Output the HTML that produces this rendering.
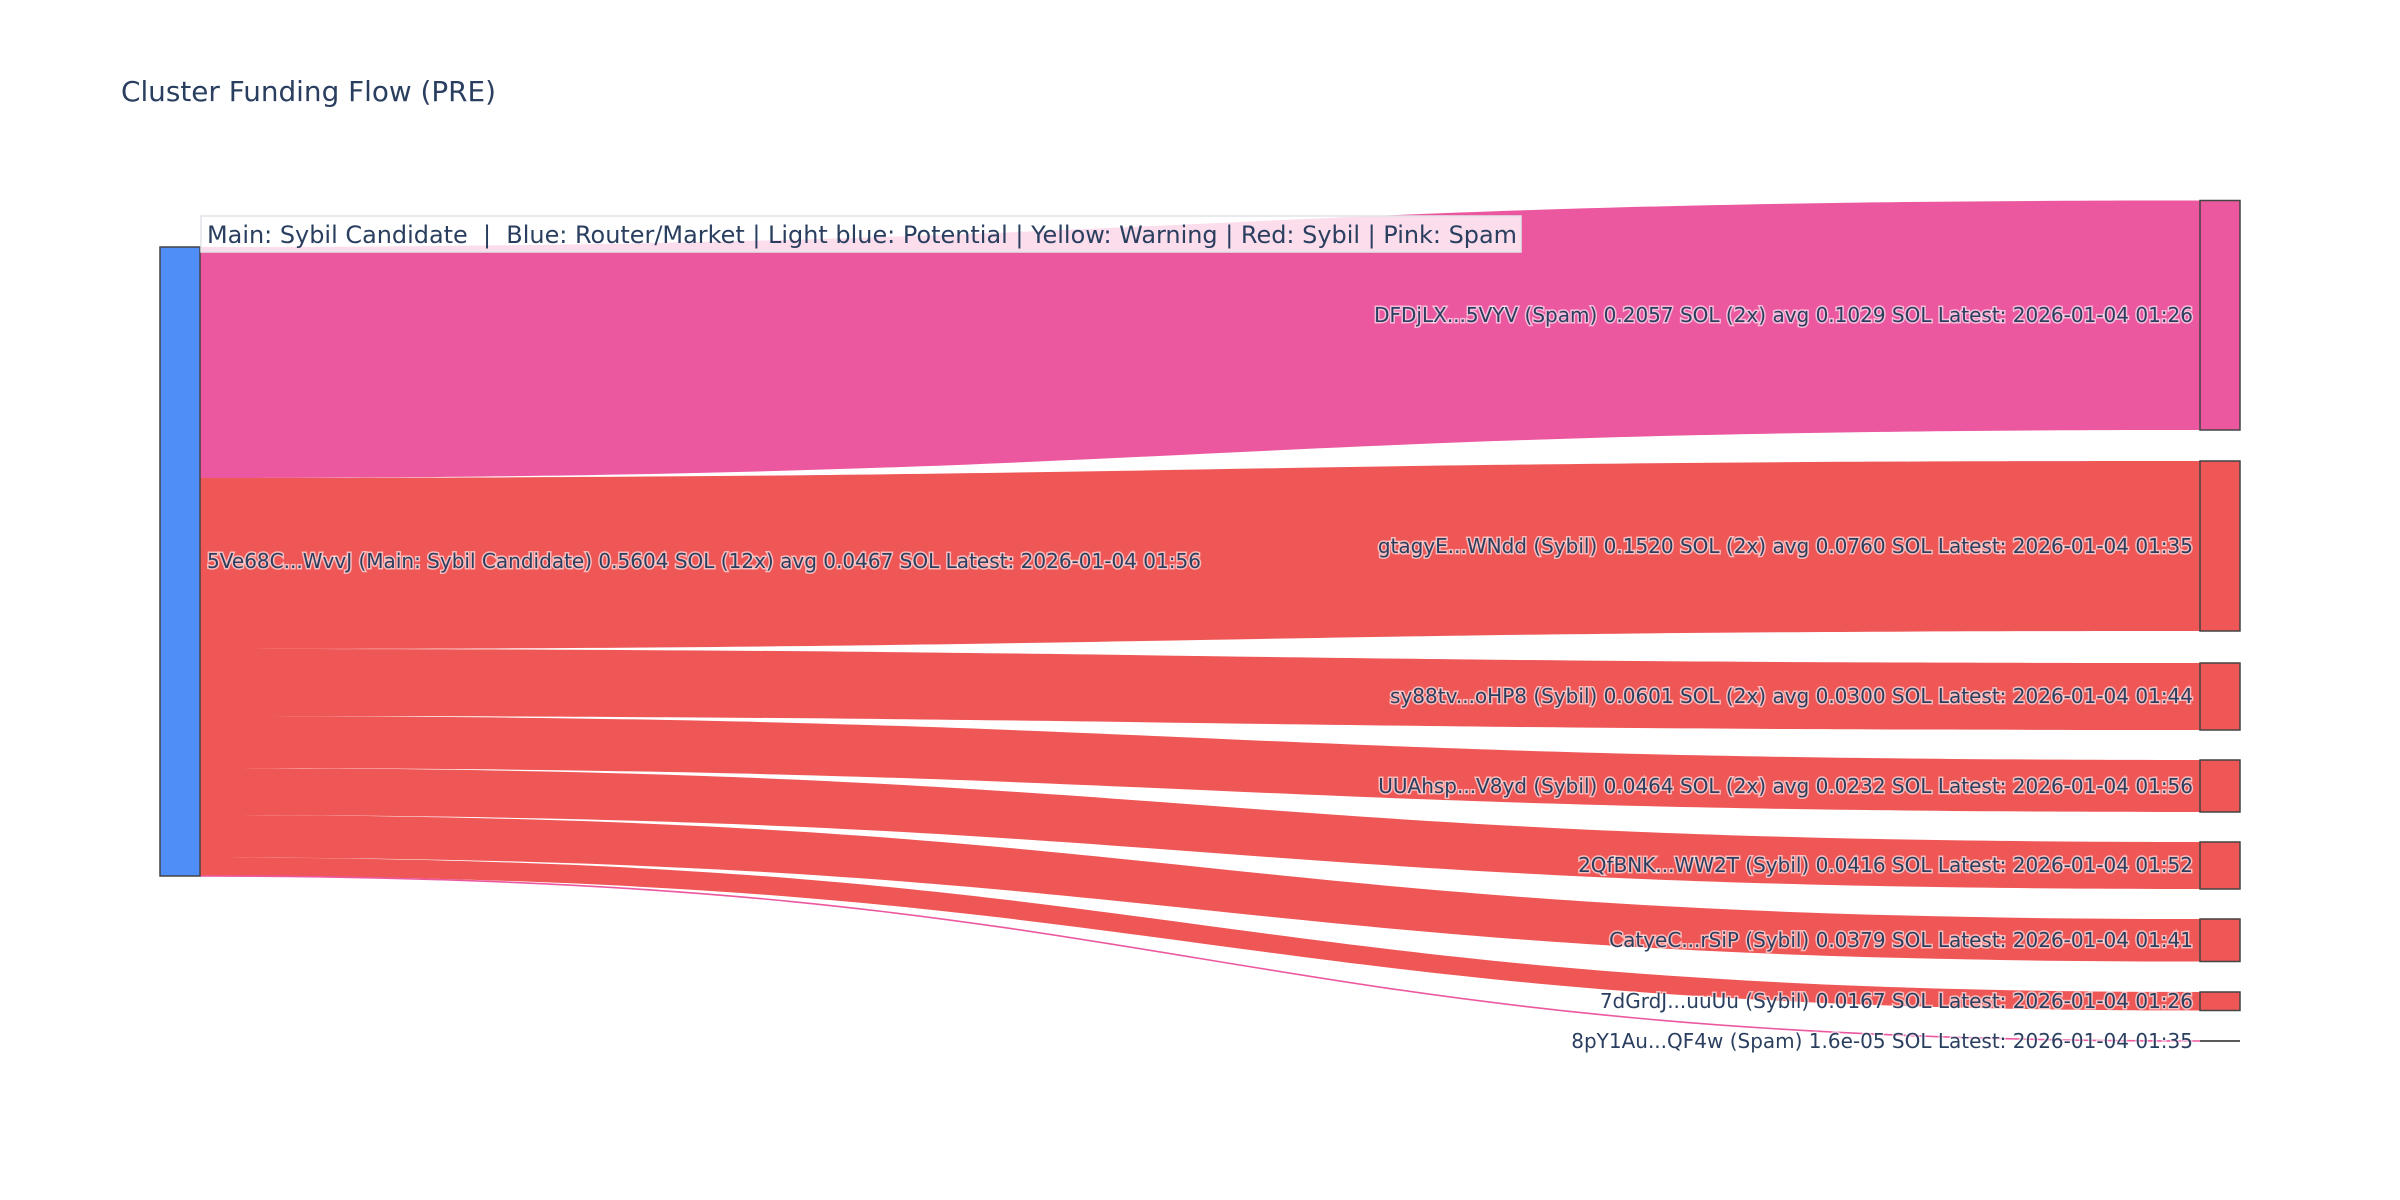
<!DOCTYPE html>
<html><head><meta charset="utf-8"><style>html,body{margin:0;padding:0;background:#fff}svg{display:block}</style></head>
<body>
<svg width="2400" height="1200" xmlns="http://www.w3.org/2000/svg" font-family="'DejaVu Sans','Liberation Sans',sans-serif">
<rect width="2400" height="1200" fill="#fff"/>
<text x="121" y="101" font-size="28" fill="#2a3f5f" textLength="375" lengthAdjust="spacingAndGlyphs">Cluster Funding Flow (PRE)</text>
<g stroke="none">
<path d="M200,247 C1200,247 1200,200.5 2200,200.5 L2200,430 C1200,430 1200,478 200,478 Z" fill="#ec58a0"/>
<path d="M200,478 C1200,478 1200,461 2200,461 L2200,631 C1200,631 1200,649 200,649 Z" fill="#ef5656"/>
<path d="M200,649 C1200,649 1200,663 2200,663 L2200,730 C1200,730 1200,716 200,716 Z" fill="#ef5656"/>
<path d="M200,716 C1200,716 1200,760 2200,760 L2200,812 C1200,812 1200,768 200,768 Z" fill="#ef5656"/>
<path d="M200,768 C1200,768 1200,842 2200,842 L2200,889 C1200,889 1200,815 200,815 Z" fill="#ef5656"/>
<path d="M200,815 C1200,815 1200,919 2200,919 L2200,961.5 C1200,961.5 1200,857.5 200,857.5 Z" fill="#ef5656"/>
<path d="M200,857.5 C1200,857.5 1200,992 2200,992 L2200,1010.5 C1200,1010.5 1200,876 200,876 Z" fill="#ef5656"/>
</g>
<path d="M200,876 C1200,876 1200,1041 2200,1041" fill="none" stroke="#ec58a0" stroke-width="1.6"/>
<g stroke="#444" stroke-width="1.5">
<rect x="160" y="247" width="40" height="629" fill="#4f8df7"/>
<rect x="2200" y="200.5" width="40" height="229.5" fill="#ec58a0"/>
<rect x="2200" y="461" width="40" height="170" fill="#ef5656"/>
<rect x="2200" y="663" width="40" height="67" fill="#ef5656"/>
<rect x="2200" y="760" width="40" height="52" fill="#ef5656"/>
<rect x="2200" y="842" width="40" height="47" fill="#ef5656"/>
<rect x="2200" y="919" width="40" height="42.5" fill="#ef5656"/>
<rect x="2200" y="992" width="40" height="18.5" fill="#ef5656"/>
<line x1="2200" y1="1041" x2="2240" y2="1041" stroke="#222"/>
</g>
<rect x="201" y="216" width="1320" height="36" fill="rgba(255,255,255,0.8)" stroke="#e2e4e8" stroke-width="1.5"/>
<text x="207" y="243" font-size="24" fill="#2a3f5f" textLength="1310" lengthAdjust="spacingAndGlyphs" xml:space="preserve">Main: Sybil Candidate  |  Blue: Router/Market | Light blue: Potential | Yellow: Warning | Red: Sybil | Pink: Spam</text>
<g font-size="20" fill="#2a3f5f" stroke="#fff" stroke-width="3" stroke-opacity="0.6" paint-order="stroke" dominant-baseline="central">
<text x="207" y="561" textLength="994" lengthAdjust="spacingAndGlyphs">5Ve68C...WvvJ (Main: Sybil Candidate) 0.5604 SOL (12x) avg 0.0467 SOL Latest: 2026-01-04 01:56</text>
<g text-anchor="end">
<text x="2193" y="315">DFDjLX...5VYV (Spam) 0.2057 SOL (2x) avg 0.1029 SOL Latest: 2026-01-04 01:26</text>
<text x="2193" y="546">gtagyE...WNdd (Sybil) 0.1520 SOL (2x) avg 0.0760 SOL Latest: 2026-01-04 01:35</text>
<text x="2193" y="696">sy88tv...oHP8 (Sybil) 0.0601 SOL (2x) avg 0.0300 SOL Latest: 2026-01-04 01:44</text>
<text x="2193" y="786">UUAhsp...V8yd (Sybil) 0.0464 SOL (2x) avg 0.0232 SOL Latest: 2026-01-04 01:56</text>
<text x="2193" y="865">2QfBNK...WW2T (Sybil) 0.0416 SOL Latest: 2026-01-04 01:52</text>
<text x="2193" y="940">CatyeC...rSiP (Sybil) 0.0379 SOL Latest: 2026-01-04 01:41</text>
<text x="2193" y="1001">7dGrdJ...uuUu (Sybil) 0.0167 SOL Latest: 2026-01-04 01:26</text>
<text x="2193" y="1041">8pY1Au...QF4w (Spam) 1.6e-05 SOL Latest: 2026-01-04 01:35</text>
</g>
</g>
</svg>
</body></html>
